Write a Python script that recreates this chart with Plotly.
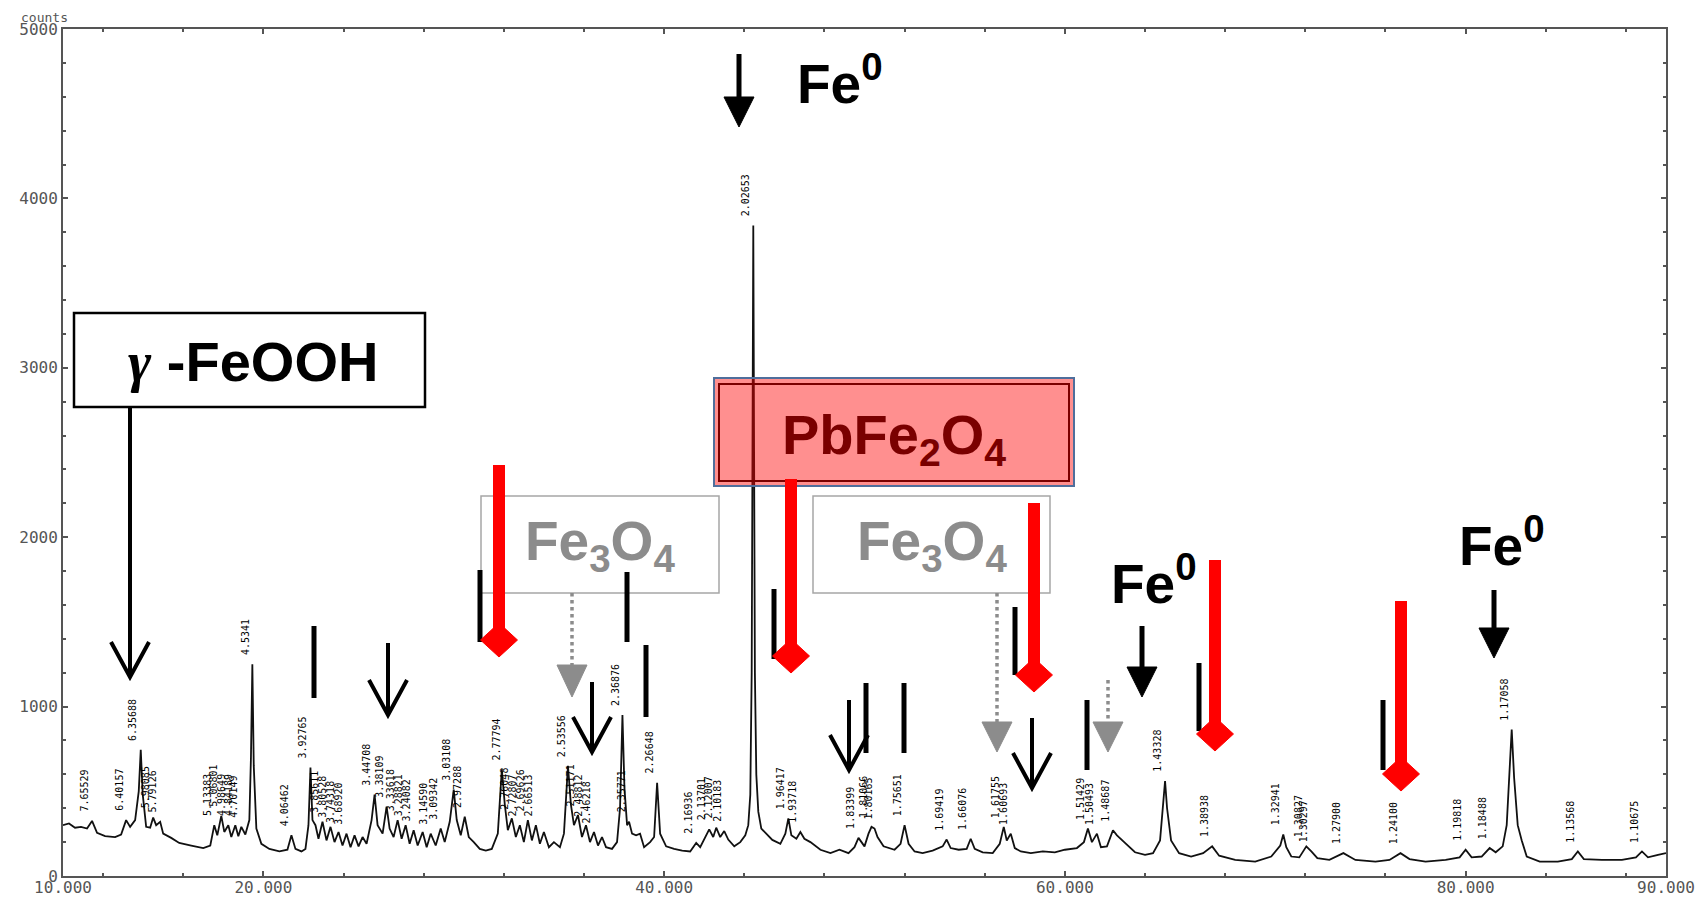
import plotly.graph_objects as go

# ---------------- data ----------------
two_theta = [
    10.0, 10.3, 10.6, 10.9, 11.2, 11.45, 11.7, 12.1, 12.6, 12.9, 13.15, 13.35, 13.6, 13.78, 13.88, 13.98,
    14.15, 14.35, 14.5, 14.65, 14.85, 15.0, 15.4, 15.8, 16.4, 17.0, 17.35, 17.55, 17.7, 17.9, 18.05, 18.25,
    18.4, 18.6, 18.75, 18.9, 19.1, 19.3, 19.38, 19.45, 19.52, 19.65, 19.9, 20.3, 20.8, 21.2, 21.4, 21.6,
    21.9, 22.1, 22.25, 22.35, 22.45, 22.6, 22.75, 22.95, 23.15, 23.35, 23.55, 23.75, 23.95, 24.15, 24.35,
    24.55, 24.75, 24.95, 25.15, 25.4, 25.55, 25.7, 25.95, 26.15, 26.3, 26.5, 26.7, 26.9, 27.1, 27.3, 27.5,
    27.7, 27.95, 28.15, 28.35, 28.6, 28.85, 29.05, 29.3, 29.5, 29.65, 29.85, 30.05, 30.25, 30.5, 30.8,
    31.1, 31.4, 31.7, 31.9, 32.05, 32.2, 32.4, 32.6, 32.8, 33.0, 33.2, 33.4, 33.6, 33.8, 34.0, 34.25,
    34.5, 34.8, 35.0, 35.2, 35.35, 35.5, 35.7, 35.9, 36.1, 36.3, 36.5, 36.7, 36.9, 37.1, 37.4, 37.65,
    37.8, 37.92, 38.02, 38.15, 38.25, 38.4, 38.6, 38.8, 39.0, 39.3, 39.5, 39.65, 39.8, 40.1, 40.5, 40.9,
    41.3, 41.6, 41.8, 42.05, 42.25, 42.45, 42.6, 42.8, 43.0, 43.2, 43.5, 43.8, 44.05, 44.2, 44.3, 44.37,
    44.41, 44.45, 44.49, 44.53, 44.6, 44.7, 44.85, 45.1, 45.4, 45.8, 46.05, 46.2, 46.35, 46.6, 46.8, 47.0,
    47.3, 47.8, 48.3, 48.75, 49.2, 49.5, 49.7, 49.85, 50.0, 50.2, 50.35, 50.5, 50.65, 50.95, 51.5, 51.8,
    52.0, 52.2, 52.5, 52.9, 53.4, 53.9, 54.1, 54.3, 54.7, 55.1, 55.3, 55.5, 55.9, 56.4, 56.75, 56.95,
    57.1, 57.3, 57.5, 57.8, 58.3, 58.9, 59.5, 60.0, 60.6, 60.95, 61.15, 61.35, 61.6, 61.8, 62.1, 62.4,
    62.6, 63.0, 63.5, 64.0, 64.4, 64.75, 64.92, 65.0, 65.1, 65.3, 65.7, 66.3, 66.9, 67.35, 67.7, 68.5,
    69.5, 70.3, 70.75, 70.9, 71.05, 71.3, 71.7, 72.05, 72.3, 72.6, 73.2, 73.9, 74.5, 75.5, 76.2, 76.75,
    77.2, 78.0, 79.0, 79.7, 80.0, 80.3, 80.8, 81.2, 81.5, 81.85, 82.05, 82.2, 82.3, 82.42, 82.6, 82.8,
    83.05, 83.7, 84.6, 85.3, 85.6, 85.9, 86.8, 87.8, 88.5, 88.8, 89.1, 89.6, 90.0,
]
counts = [
    300, 310, 285, 290, 280, 325, 255, 235, 230, 245, 330, 290, 330, 500, 745, 480,
    290, 285, 345, 300, 320, 250, 225, 195, 180, 165, 180, 300, 240, 355, 260, 300,
    230, 300, 235, 290, 245, 330, 700, 1250, 650, 280, 190, 160, 145, 155, 240, 160,
    145, 160, 300, 640, 330, 300, 220, 320, 210, 290, 200, 260, 180, 250, 170,
    240, 175, 230, 190, 330, 480, 300, 250, 410, 280, 230, 330, 220, 300, 190, 270,
    180, 260, 170, 250, 180, 280, 200, 320, 510, 330, 240, 350, 230, 200, 160,
    150, 160, 250, 630, 420, 270, 340, 230, 300, 200, 330, 210, 300, 190, 260, 170,
    200, 170, 250, 650, 420, 300, 360, 230, 300, 200, 260, 180, 230, 170, 160, 200,
    400, 950, 520, 300, 320, 250, 240, 250, 170, 200, 230, 550, 250, 175, 160, 150,
    145, 195, 170, 225, 275, 230, 285, 230, 265, 215, 175, 200, 240, 300, 480, 1200,
    2500, 3840, 2500, 1200, 600, 380, 280, 250, 213, 190, 250, 340, 240, 220, 260, 220,
    200, 155, 135, 155, 135, 170, 225, 200, 175, 250, 290, 280, 230, 175, 155, 190,
    300, 190, 145, 135, 150, 175, 215, 165, 155, 160, 220, 160, 140, 135, 190, 290,
    210, 250, 165, 145, 135, 145, 140, 155, 165, 200, 280, 200, 250, 170, 175, 270,
    240, 195, 140, 125, 135, 210, 420, 560, 400, 210, 135, 115, 135, 175, 120, 95,
    85, 115, 180, 245, 170, 115, 110, 175, 145, 105, 95, 135, 95, 85, 95, 135,
    100, 85, 95, 110, 155, 110, 115, 165, 140, 175, 300, 600, 865, 580, 300, 210,
    115, 85, 85, 100, 145, 100, 95, 95, 110, 145, 110, 125, 135,
]

# d-spacing labels printed above the peaks
label_theta = [11.45, 13.15, 13.88, 14.5, 14.85, 17.55, 17.9, 18.25, 18.6, 18.9, 19.45, 21.4, 22.35,
               22.95, 23.35, 23.75, 24.15, 25.55, 26.15, 26.7, 27.1, 27.5, 28.35, 28.85, 29.5, 30.05,
               32.0, 32.4, 32.8, 33.2, 33.6, 35.25, 35.7, 36.1, 36.5, 37.92, 38.25, 39.65, 41.6, 42.25,
               42.6, 43.0, 44.45, 46.2, 46.8, 49.7, 50.35, 50.6, 52.0, 54.1, 55.3, 56.95, 57.3, 61.15,
               61.6, 62.4, 65.0, 67.35, 70.9, 72.05, 72.3, 73.9, 76.75, 80.0, 81.2, 82.3, 85.6, 88.8]
label_counts = [325, 330, 745, 345, 320, 300, 355, 300, 300, 290, 1250, 240, 640,
                320, 290, 260, 250, 480, 410, 330, 300, 270, 250, 280, 510, 350,
                630, 340, 300, 330, 300, 650, 360, 300, 260, 950, 320, 550, 195, 275,
                285, 265, 3840, 340, 260, 225, 290, 280, 300, 215, 220, 290, 250, 280,
                250, 270, 560, 175, 245, 175, 145, 135, 135, 155, 165, 865, 145, 145]
label_text = ["7.65529", "6.40157", "6.35688", "5.98085", "5.79126", "5.13383", "5.06801", "4.98649",
              "4.84189", "4.70149", "4.5341", "4.06462", "3.92765", "3.85611", "3.80528", "3.74318",
              "3.68920", "3.44708", "3.38109", "3.33618", "3.28821", "3.24082", "3.14590", "3.09342",
              "3.03108", "2.97288", "2.77794", "2.76048", "2.72807", "2.69626", "2.66513", "2.53556",
              "2.51171", "2.48812", "2.46218", "2.36876", "2.35771", "2.26648", "2.16936", "2.13701",
              "2.12007", "2.10183", "2.02653", "1.96417", "1.93718", "1.83399", "1.81066", "1.80165",
              "1.75651", "1.69419", "1.66076", "1.61755", "1.60693", "1.51429", "1.50493", "1.48687",
              "1.43328", "1.38938", "1.32941", "1.30827", "1.30297", "1.27900", "1.24100", "1.19818",
              "1.18488", "1.17058", "1.13568", "1.10675"]

x_tick_vals = [10, 20, 40, 60, 80, 90]
x_tick_text = ["10.000", "20.000", "40.000", "60.000", "80.000", "90.000"]
y_tick_vals = [0, 1000, 2000, 3000, 4000, 5000]
y_tick_text = ["0", "1000", "2000", "3000", "4000", "5000"]

# ---------------- figure ----------------
# page has an 8px body margin: figure origin sits at (8, 8) on the page
OFF = 8
W, H = 1698, 892
PL, PR, PT, PB = 63, 1666, 29, 876   # plot area in page pixels


def px(x):
    return (x - PL) / (PR - PL)


def py(y):
    return (PB - y) / (PB - PT)


fig = go.Figure()
fig.add_trace(go.Scatter(x=two_theta, y=counts, mode="lines",
                         line=dict(color="#111111", width=1.8), hoverinfo="skip",
                         showlegend=False))

shapes = []
annotations = []

# peak labels
for t, c, s in zip(label_theta, label_counts, label_text):
    annotations.append(dict(x=t, y=c, xref="x", yref="y", text=s, showarrow=False,
                            textangle=-90, xanchor="right", yanchor="bottom", yshift=7,
                            font=dict(family="DejaVu Sans Mono", size=10, color="#000")))


def line(x0, y0, x1, y1, color="black", width=4, dash="solid"):
    shapes.append(dict(type="line", xref="paper", yref="paper", x0=px(x0), y0=py(y0),
                       x1=px(x1), y1=py(y1), line=dict(color=color, width=width, dash=dash)))


def path(pts, fill=None, color="black", width=4, closed=False):
    d = "M " + " L ".join(f"{px(a):.5f},{py(b):.5f}" for a, b in pts)
    if closed:
        d += " Z"
    shapes.append(dict(type="path", xref="paper", yref="paper", path=d,
                       fillcolor=fill if fill else "rgba(0,0,0,0)",
                       line=dict(color=color, width=width)))


def rect(x0, y0, x1, y1, color, width, fill=None):
    shapes.append(dict(type="rect", xref="paper", yref="paper", x0=px(x0), y0=py(y1),
                       x1=px(x1), y1=py(y0), line=dict(color=color, width=width),
                       fillcolor=fill if fill else "rgba(0,0,0,0)"))


def open_arrow(x, top, tip, hw=19, hh=35, w=4):
    line(x, top, x, tip - 2, width=w)
    path([(x - hw, tip - hh), (x, tip), (x + hw, tip - hh)], width=w)


def filled_arrow(x, top, tip, hw=15, hh=30, w=5):
    line(x, top, x, tip - hh + 2, width=w)
    path([(x - hw, tip - hh), (x + hw, tip - hh), (x, tip)], fill="black", width=1, closed=True)


def bar(x, top, bottom, w=5):
    line(x, top, x, bottom, width=w)


def red_arrow(x, top, cy, hw=18.5, hh=17):
    rect(x - 6, top, x + 6, cy, "rgba(0,0,0,0)", 0, fill="#ff0000")
    path([(x - hw, cy), (x, cy - hh), (x + hw, cy), (x, cy + hh)], fill="#ff0000",
         color="#ff0000", width=1, closed=True)


def gray_arrow(x, top, tbase, tip, hw=15):
    line(x, top, x, tbase, color="#8c8c8c", width=3.5, dash="dot")
    path([(x - hw, tbase), (x + hw, tbase), (x, tip)], fill="#8c8c8c", color="#8c8c8c",
         width=1, closed=True)


# boxes
rect(74, 313, 425, 407, "black", 2.5, fill="white")
rect(481, 496, 719, 593, "#a6a6a6", 1.5)
rect(813, 496, 1050, 593, "#a6a6a6", 1.5)

# black phase bars
for bx, bt, bb in [(314, 626, 698), (480, 570, 642), (627, 572, 642), (646, 645, 717),
                   (774, 589, 659), (866, 683, 753), (904, 683, 753), (1015, 607, 675),
                   (1087, 700, 770), (1199, 663, 731), (1383, 700, 770)]:
    bar(bx, bt, bb)

# open black arrows
open_arrow(130, 407, 677)
open_arrow(388, 643, 715)
open_arrow(592, 682, 752)
open_arrow(849, 700, 770)
open_arrow(1032, 718, 788)

# Fe0 arrows (filled heads)
filled_arrow(739, 54, 127)
filled_arrow(1142, 626, 697)
filled_arrow(1494, 590, 658)

# gray dotted arrows
gray_arrow(572, 593, 665, 697)
gray_arrow(997, 593, 722, 752)
gray_arrow(1108, 680, 722, 752)

# PbFe2O4 box
rect(714, 378, 1074, 486, "#4f6e9c", 2, fill="rgba(255,0,0,0.44)")
rect(719, 384, 1069, 481, "#7a0000", 2)

# red arrows
for rx, rt, rc in [(499, 465, 640), (791, 479, 656), (1034, 503, 675), (1215, 560, 734),
                   (1401, 601, 774)]:
    red_arrow(rx, rt, rc)


def label(x, y, text, color="black", size=55):
    annotations.append(dict(x=px(x), y=py(y), xref="paper", yref="paper", text=text,
                            showarrow=False, xanchor="center", yanchor="middle",
                            font=dict(family="Liberation Sans", size=size, color=color)))


label(253, 362, "<b><i><span style='font-family:Liberation Serif'>γ</span></i> -FeOOH</b>", size=56)
label(600, 545, "<b>Fe<sub>3</sub>O<sub>4</sub></b>", color="#8c8c8c")
label(932, 545, "<b>Fe<sub>3</sub>O<sub>4</sub></b>", color="#8c8c8c")
label(894, 438, "<b>PbFe<sub>2</sub>O<sub>4</sub></b>", color="#7a0000", size=56)
label(840, 80, "<b>Fe<sup>0</sup></b>")
label(1154, 580, "<b>Fe<sup>0</sup></b>")
label(1502, 542, "<b>Fe<sup>0</sup></b>")

# "counts" caption
annotations.append(dict(x=px(44), y=py(17), xref="paper", yref="paper", text="counts",
                        showarrow=False, xanchor="center", yanchor="middle",
                        font=dict(family="DejaVu Sans Mono", size=13, color="#555")))

axis_common = dict(showgrid=False, zeroline=False, showline=True, linecolor="#555555",
                   linewidth=2, mirror="ticks", ticks="inside", tickcolor="#555555",
                   tickwidth=1.5, ticklen=5, automargin=False)

fig.update_layout(
    width=W, height=H, autosize=False,
    margin=dict(l=PL - OFF, r=(W + OFF) - PR, t=PT - OFF, b=(H + OFF) - PB),
    paper_bgcolor="white", plot_bgcolor="white",
    shapes=shapes, annotations=annotations,
    xaxis=dict(range=[10, 90], tickvals=x_tick_vals, ticktext=x_tick_text,
               ticklabelstandoff=-4,
               tickfont=dict(family="DejaVu Sans Mono", size=16, color="#555555"),
               minor=dict(tick0=0, dtick=4, ticks="inside", ticklen=3, tickcolor="#555555"),
               **axis_common),
    yaxis=dict(range=[0, 5000], tickvals=y_tick_vals, ticktext=y_tick_text,
               tickfont=dict(family="DejaVu Sans Mono", size=16, color="#555555"),
               minor=dict(tick0=0, dtick=200, ticks="inside", ticklen=3, tickcolor="#555555"),
               **axis_common),
)

fig.write_html("out.html")
